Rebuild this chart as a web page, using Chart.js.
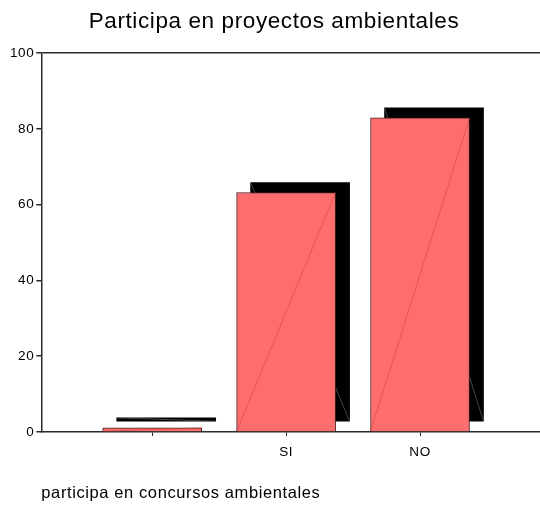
<!DOCTYPE html>
<html>
<head>
<meta charset="utf-8">
<script src="https://cdn.jsdelivr.net/npm/chart.js@4.4.1/dist/chart.umd.min.js"></script>
<style>
  body { margin: 0; background: #fff; }
  #wrap { width: 540px; height: 506px; }
</style>
</head>
<body>
<div id="wrap"><canvas id="chart"></canvas></div>
<script>
// data
const categories = ['', 'SI', 'NO'];
const percentages = [1.1, 63.2, 82.9];
const yTicks = [0, 20, 40, 60, 80, 100];

Chart.defaults.font.family = "'Liberation Sans', Arial, sans-serif";
Chart.defaults.color = '#000';

const points = categories.map((c, i) => ({ x: i + 1, y: percentages[i] }));

// shadow offset and the thin diagonal strokes SPSS draws on each bar
const SHADOW_DX = 14, SHADOW_DY = -10;
const LETTER_SPACING = '0.6px';

// SPSS text is a bit spread out, canvas letterSpacing gets close
const spacingPlugin = {
    id: 'spacing',
    beforeUpdate(chart) { chart.ctx.letterSpacing = LETTER_SPACING; },
    beforeDraw(chart) { chart.ctx.letterSpacing = LETTER_SPACING; }
};

const shadowPlugin = {
    id: 'barShadow',
    beforeDatasetDraw(chart, args) {
        if (args.index === 1) {
            chart.ctx.save();
            chart.ctx.translate(SHADOW_DX, SHADOW_DY);
        }
    },
    afterDatasetDraw(chart, args) {
        const ctx = chart.ctx;
        if (args.index === 1) {
            // faint diagonal on the shadow, top-left to bottom-right
            ctx.strokeStyle = 'rgba(120,120,120,0.8)';
            ctx.lineWidth = 0.7;
            args.meta.data.forEach(bar => {
                const p = bar.getProps(['x', 'y', 'base', 'width'], true);
                ctx.beginPath();
                ctx.moveTo(p.x - p.width / 2, p.y);
                ctx.lineTo(p.x + p.width / 2, p.base);
                ctx.stroke();
            });
            ctx.restore();
        }
        if (args.index === 0) {
            // diagonal on the front bar, bottom-left to top-right
            ctx.save();
            ctx.strokeStyle = 'rgba(200,60,60,0.7)';
            ctx.lineWidth = 0.7;
            args.meta.data.forEach(bar => {
                const p = bar.getProps(['x', 'y', 'base', 'width'], true);
                ctx.beginPath();
                ctx.moveTo(p.x - p.width / 2, p.base);
                ctx.lineTo(p.x + p.width / 2, p.y);
                ctx.stroke();
            });
            ctx.restore();
        }
    }
};

new Chart(document.getElementById('chart'), {
    type: 'bar',
    data: {
        datasets: [{
            label: 'Porcentaje',
            data: points,
            backgroundColor: '#ff6e6e',
            borderColor: '#4a2020',
            borderWidth: 1,
            borderSkipped: 'bottom',
            barThickness: 99,
            grouped: false
        }, {
            label: 'sombra',
            data: points,
            backgroundColor: '#000',
            borderWidth: 0,
            barThickness: 99,
            grouped: false
        }]
    },
    options: {
        responsive: true,
        maintainAspectRatio: false,
        animation: false,
        layout: { padding: { left: 8, right: 0, top: 3, bottom: 3 } },
        plugins: {
            legend: { display: false },
            tooltip: { enabled: false },
            title: {
                display: true,
                text: 'Participa en proyectos ambientales',
                font: { size: 22.5, weight: 'normal' },
                color: '#000',
                padding: { top: 5, bottom: 18 }
            }
        },
        scales: {
            x: {
                type: 'linear',
                offset: false,
                min: 0.172,
                max: 3.896,
                afterBuildTicks: axis => {
                    axis.ticks = categories.map((c, i) => ({ value: i + 1 }));
                },
                ticks: {
                    callback: v => categories[v - 1],
                    font: { size: 13.5 },
                    color: '#000',
                    padding: 8,
                    maxRotation: 0
                },
                grid: {
                    display: true,
                    offset: false,
                    drawOnChartArea: false,
                    tickLength: 4,
                    tickColor: '#2a2a2a'
                },
                border: { display: true, color: '#2a2a2a', width: 1.5 },
                title: {
                    display: true,
                    text: 'participa en concursos ambientales',
                    align: 'start',
                    font: { size: 16.5 },
                    color: '#000',
                    padding: { top: 15, bottom: 0 }
                }
            },
            y: {
                min: 0,
                max: 100,
                afterBuildTicks: axis => {
                    axis.ticks = yTicks.map(v => ({ value: v }));
                },
                ticks: {
                    font: { size: 13.5 },
                    color: '#000',
                    padding: 2
                },
                grid: {
                    display: true,
                    drawOnChartArea: true,
                    color: ctx => (ctx.tick && ctx.tick.value === 100 ? '#2a2a2a' : 'rgba(0,0,0,0)'),
                    lineWidth: 1.5,
                    tickColor: '#2a2a2a',
                    tickLength: 5
                },
                border: { display: true, color: '#2a2a2a', width: 1.5 }
            }
        }
    },
    plugins: [spacingPlugin, shadowPlugin]
});
</script>
</body>
</html>
